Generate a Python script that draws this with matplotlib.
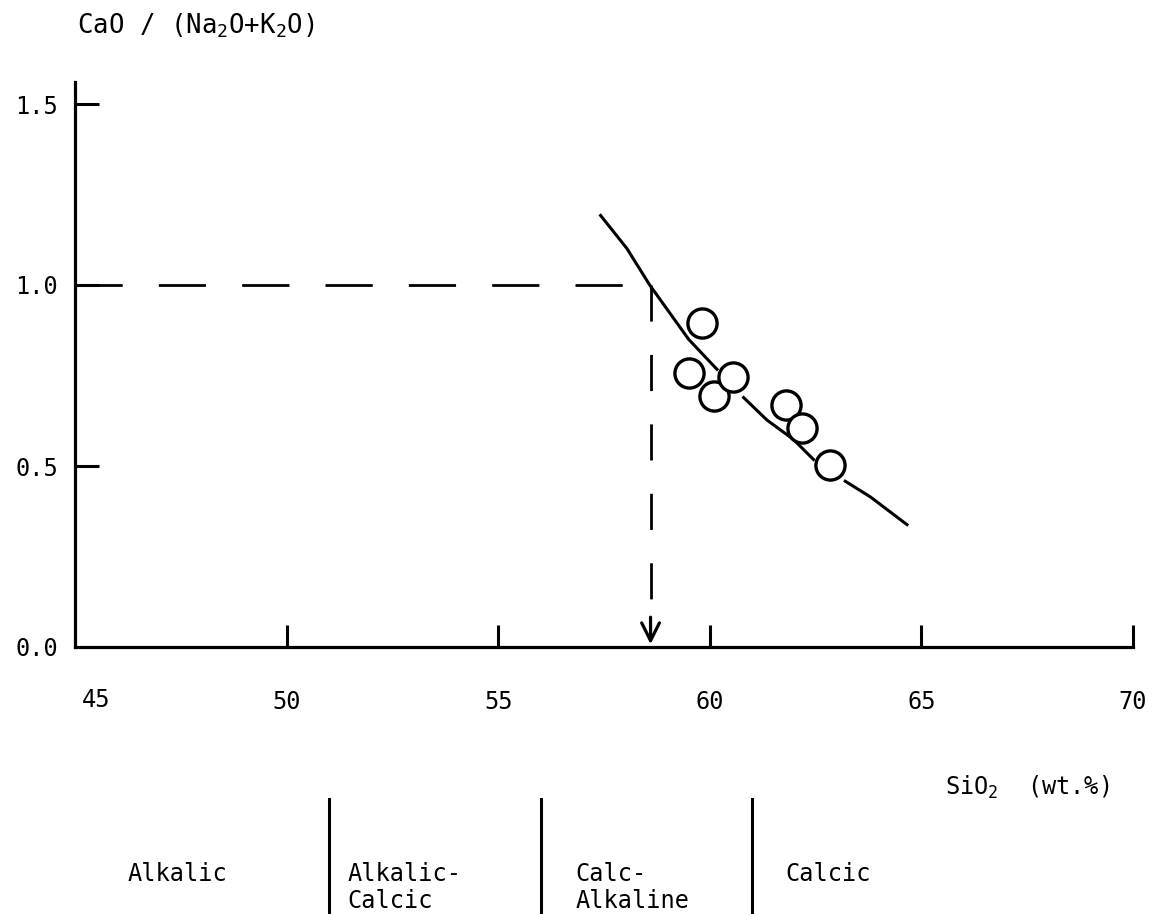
import matplotlib
matplotlib.use('Agg')
import matplotlib.pyplot as plt

plt.rcParams['font.family'] = ['DejaVu Sans Mono']
plt.rcParams['mathtext.fontset'] = 'custom'
plt.rcParams['mathtext.rm'] = 'DejaVu Sans Mono'
plt.rcParams['mathtext.it'] = 'DejaVu Sans Mono'
plt.rcParams['mathtext.default'] = 'rm'

# samples (SiO2 wt.%, CaO/(Na2O+K2O))
sio2 = [59.50, 59.82, 60.11, 60.56, 61.79, 62.18, 62.83]
ratio = [0.757, 0.895, 0.693, 0.745, 0.668, 0.605, 0.502]

# trend curve, None = break in the drawn line
curve_x = [57.42, 58.04, 58.58, 59.50, 60.17, None, 60.80, 61.35, 61.98, 62.45, None, 63.20, 63.79, 64.66]
curve_y = [1.192, 1.101, 1.000, 0.850, 0.767, None, 0.689, 0.627, 0.573, 0.518, None, 0.458, 0.415, 0.338]

# Peacock index
peacock_x = 58.6
peacock_y = 1.0

xticks = [45, 50, 55, 60, 65, 70]
xlabels = ['', '50', '55', '60', '65', '70']
yticks = [0.0, 0.5, 1.0, 1.5]
ylabels = ['0.0', '0.5', '1.0', '1.5']

# classification fields
bounds = [51, 56, 61]
fields = ['Alkalic', 'Alkalic-\nCalcic', 'Calc-\nAlkaline', 'Calcic']
field_x = [46.25, 51.43, 56.82, 61.78]

W, H = 1154, 914
fig = plt.figure(figsize=(W / 100, H / 100), dpi=100)
ax = fig.add_axes([75 / W, 1 - 647 / H, (1133 - 75) / W, (647 - 82) / H])
ax.set_xlim(45, 70)
ax.set_ylim(0, (647 - 82) / 362)

for s in ['top', 'right']:
    ax.spines[s].set_visible(False)
for s in ['left', 'bottom']:
    ax.spines[s].set_linewidth(2.3)

ax.set_xticks(xticks)
ax.set_xticklabels(xlabels)
ax.set_yticks(yticks)
ax.set_yticklabels(ylabels)
ax.tick_params(axis='x', direction='in', length=16, width=2.2, pad=31, labelsize=17)
ax.tick_params(axis='y', direction='in', length=17, width=2.2, pad=12, labelsize=17)
# no tick marks at the origin
ax.xaxis.get_major_ticks()[0].tick1line.set_visible(False)
ax.yaxis.get_major_ticks()[0].tick1line.set_visible(False)
# "45" sits a little right of the corner
ax.annotate('45', xy=(45.5, 0), xytext=(0, -38), textcoords='offset points',
            ha='center', va='center', fontsize=17, annotation_clip=False)

# dashed construction lines
ax.plot([45, peacock_x], [peacock_y, peacock_y], color='black', lw=2.0, dashes=(17, 13))
ax.plot([peacock_x, peacock_x], [peacock_y, 0.07], color='black', lw=2.0, dashes=(13, 12))
ax.annotate('', xy=(peacock_x, 0.0), xytext=(peacock_x, 0.09),
            arrowprops=dict(arrowstyle='->', lw=2.3, color='black', mutation_scale=32))

ax.plot(curve_x, curve_y, color='black', lw=2.2)
ax.plot(sio2, ratio, 'o', ms=21, mfc='white', mec='black', mew=2.4)

fig.text(77 / W, 1 - 34 / H, r'CaO / (Na$_2$O+K$_2$O)', ha='left', va='baseline', fontsize=18.5)
fig.text(945 / W, 1 - 795 / H, r'SiO$_2$  (wt.%)', ha='left', va='baseline', fontsize=17)

# classification strip under the axis
ax2 = fig.add_axes([75 / W, 0, (1133 - 75) / W, (914 - 798) / H])
ax2.set_xlim(45, 70)
ax2.set_ylim(0, 1)
ax2.axis('off')
for b in bounds:
    ax2.axvline(b, color='black', lw=2.2)
for fx, name in zip(field_x, fields):
    ax2.text(fx, (914 - 862) / 116, name, ha='left', va='top', fontsize=17, linespacing=1.15)

fig.savefig('out.png', dpi=100)
